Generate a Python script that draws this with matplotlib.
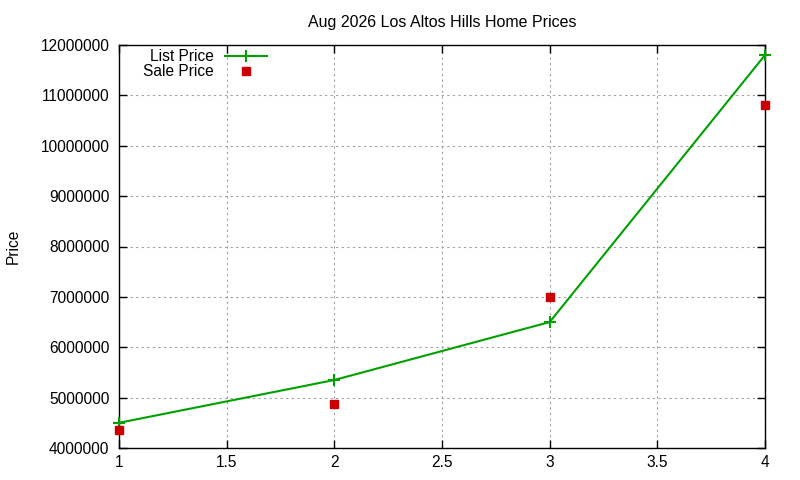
import matplotlib
matplotlib.use('Agg')

import matplotlib.pyplot as plt
import matplotlib.ticker as ticker

# data
months = [1, 2, 3, 4]
list_price = [4500000, 5350000, 6500000, 11800000]
sale_price = [4350000, 4880000, 7000000, 10800000]

plt.rcParams['font.family'] = ['Liberation Sans', 'DejaVu Sans']
plt.rcParams['font.size'] = 11.2

fig = plt.figure(figsize=(8, 4.8), dpi=100)
ax = fig.add_axes([119/800, 32/480, 646/800, 403/480])

ax.plot(months, list_price, color='#00a000', lw=1.5, marker='+',
        ms=8, mew=1.5, label='List Price', clip_on=False, zorder=3)
ax.plot(months, sale_price, ls='none', color='#cc0000', marker='s',
        ms=6, label='Sale Price', clip_on=False, zorder=3)

ax.set_xlim(1, 4)
ax.set_ylim(4000000, 12000000)
ax.xaxis.set_major_locator(ticker.MultipleLocator(0.5))
ax.yaxis.set_major_locator(ticker.MultipleLocator(1000000))

# ticks string formatter
ax.xaxis.set_major_formatter(ticker.FormatStrFormatter('%g'))
ax.yaxis.set_major_formatter(ticker.FormatStrFormatter('%d'))

ax.tick_params(direction='in', top=True, right=True, length=6, width=1,
               labelsize=11.2, colors='black')
ax.tick_params(axis='y', pad=7)
ax.tick_params(axis='x', pad=5)

ax.grid(True, color='#a0a0a0', ls=(0, (2, 3)), lw=0.8)
for s in ax.spines.values():
    s.set_linewidth(1)

ax.set_title('Aug 2026 Los Altos Hills Home Prices', fontsize=11.5, pad=13)
ax.set_ylabel('Price')
ax.yaxis.set_label_coords(-0.152, 0.5)

ax.legend(loc='upper right', bbox_to_anchor=(148/646, 0.99),
          markerfirst=False, frameon=False, numpoints=1,
          handlelength=2.7, handletextpad=0.7, borderpad=0,
          borderaxespad=0, labelspacing=0.0)

fig.savefig('out.png', dpi=100)
